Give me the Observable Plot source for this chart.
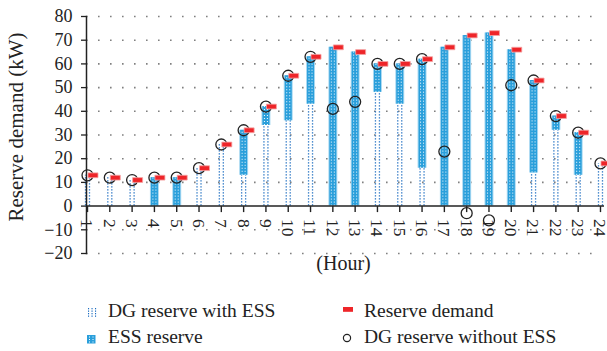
<!DOCTYPE html>
<html><head><meta charset="utf-8">
<script src="https://cdn.jsdelivr.net/npm/d3@7"></script>
<script src="https://cdn.jsdelivr.net/npm/@observablehq/plot@0.6"></script>
<style>
body{margin:0;background:#fff;}
#chart{width:607px;height:351px;position:relative;font-family:"Liberation Serif","DejaVu Serif",serif;}
#chart svg{display:block;}
</style></head><body><div id="chart"></div>
<script>
const hours = [1,2,3,4,5,6,7,8,9,10,11,12,13,14,15,16,17,18,19,20,21,22,23,24];
const dgWithEss = [13,12,11,0,0,16,26,13,34,36,43,0,0,48,43,16,0,0,0,0,14,32,13,18];
const essReserve = [0,0,0,12,12,0,0,19,8,19,20,67,65,12,17,46,67,72,73,66,39,6,18,0];
const reserveDemand = [13,12,11,12,12,16,26,32,42,55,63,67,65,60,60,62,67,72,73,66,53,38,31,18];
const dgWithoutEss = [13,12,11,12,12,16,26,32,42,55,63,41,44,60,60,62,23,-3,-6,51,53,38,31,18];
const yTicks = [-20,-10,0,10,20,30,40,50,60,70,80];
const seriesNames = ["DG reserve with ESS","ESS reserve","Reserve demand","DG reserve without ESS"];

const rows = hours.map((h,i)=>({hour:h, dg:dgWithEss[i], ess:essReserve[i], top:dgWithEss[i]+essReserve[i], demand:reserveDemand[i], noEss:dgWithoutEss[i]}));
const essRows = rows.filter(d=>d.ess>0);
const dgRows = rows.filter(d=>d.dg>0);

const DARK = "#1b6cc0", LIGHT = "#2a9fdb", HALO = "#a9d9f2", RED = "#ee2529", INK = "#222";
const tickSym = {draw(ctx){ctx.moveTo(0,0);ctx.lineTo(0,6);}};
const rectSym = {draw(ctx){ctx.rect(-5,-2.4,10,4.8);}};

const plot = Plot.plot({
  width:607, height:275, marginLeft:86, marginRight:3, marginTop:16, marginBottom:22,
  style:{fontFamily:"'Liberation Serif', serif", fontSize:"18px", background:"transparent", color:INK, overflow:"visible"},
  x:{domain:[0.955,24.18], axis:null},
  y:{domain:[-20,80]},
  marks:[
    Plot.ruleY(yTicks.filter(d=>d!==0), {stroke:"#808080", strokeWidth:1.6, strokeDasharray:"1.6,10.4", insetRight:12}),
    Plot.axisY({ticks:yTicks, tickSize:5, tickPadding:9, fontSize:18, label:null, stroke:INK, strokeWidth:1.3}),
    Plot.ruleX(dgRows, {x:"hour", y1:0, y2:"dg", stroke:DARK, strokeWidth:1.3, strokeDasharray:"1.3,1.7", dx:-2}),
    Plot.ruleX(dgRows, {x:"hour", y1:0, y2:"dg", stroke:DARK, strokeWidth:1.3, strokeDasharray:"1.3,1.7", dx:2}),
    Plot.ruleX(essRows, {x:"hour", y1:"dg", y2:"top", stroke:HALO, strokeWidth:9}),
    Plot.ruleX(essRows, {x:"hour", y1:"dg", y2:"top", stroke:LIGHT, strokeWidth:7}),
    Plot.ruleX(essRows, {x:"hour", y1:"dg", y2:"top", stroke:"white", strokeWidth:1, strokeDasharray:"1,2", dx:-1.5}),
    Plot.ruleX(essRows, {x:"hour", y1:"dg", y2:"top", stroke:"white", strokeWidth:1, strokeDasharray:"1,2", dx:1.5}),
    Plot.frame({anchor:"left", stroke:INK, strokeWidth:1.5}),
    Plot.ruleY([0], {stroke:INK, strokeWidth:1.5}),
    Plot.dot(hours, {x:d=>d, y:0, symbol:tickSym, stroke:INK, fill:"none", strokeWidth:1.4}),
    Plot.text(hours, {x:d=>d, y:0, text:d=>String(d), rotate:90, textAnchor:"start", lineAnchor:"middle", dy:13, dx:-0.5, fontSize:17.5, fill:INK}),
    Plot.dot(rows, {x:"hour", y:"noEss", r:5.5, stroke:INK, strokeWidth:1.3, fill:"none"}),
    Plot.dot(rows, {x:"hour", y:"demand", symbol:rectSym, fill:RED, stroke:"#f5a3a3", strokeWidth:0.8, dx:5.5}),
    Plot.text(["(Hour)"], {frameAnchor:"bottom", lineAnchor:"top", dy:2, dx:-2, fontSize:20, fill:INK}),
    Plot.text(["Reserve demand (kW)"], {frameAnchor:"left", rotate:-90, textAnchor:"middle", lineAnchor:"middle", dx:-70, dy:-8, fontSize:21, fill:INK})
  ]
});
document.getElementById("chart").appendChild(plot);

// legend
const lg = d3.create("svg").attr("width",607).attr("height",76)
  .style("font-family","'Liberation Serif', serif").style("font-size","19.5px");
const items = [
  {name:seriesNames[0], x:108, y:42},
  {name:seriesNames[1], x:108, y:68},
  {name:seriesNames[2], x:364, y:42},
  {name:seriesNames[3], x:364, y:68}
];
lg.selectAll("text").data(items).join("text")
  .attr("x",d=>d.x).attr("y",d=>d.y).attr("fill",INK).text(d=>d.name);
// swatch 1: dotted grid
const s1 = lg.append("g");
for (const cx of [88,91.5,95]) for (const cy of [33,35.5,38,40.5])
  s1.append("rect").attr("x",cx).attr("y",cy).attr("width",1.1).attr("height",1.3).attr("fill",DARK);
// swatch 2: ESS
const s2 = lg.append("g");
s2.append("rect").attr("x",87).attr("y",60).attr("width",8.5).attr("height",8.5).attr("fill",LIGHT);
for (const cx of [89,92.5]) for (const cy of [61.5,64,66.5])
  s2.append("rect").attr("x",cx).attr("y",cy).attr("width",1).attr("height",1).attr("fill","white");
// swatch 3: red
lg.append("rect").attr("x",343).attr("y",32).attr("width",10).attr("height",4.8).attr("fill",RED);
// swatch 4: circle
lg.append("circle").attr("cx",347).attr("cy",63).attr("r",3.6).attr("fill","none").attr("stroke",INK).attr("stroke-width",1.2);
document.getElementById("chart").appendChild(lg.node());
</script></body></html>
